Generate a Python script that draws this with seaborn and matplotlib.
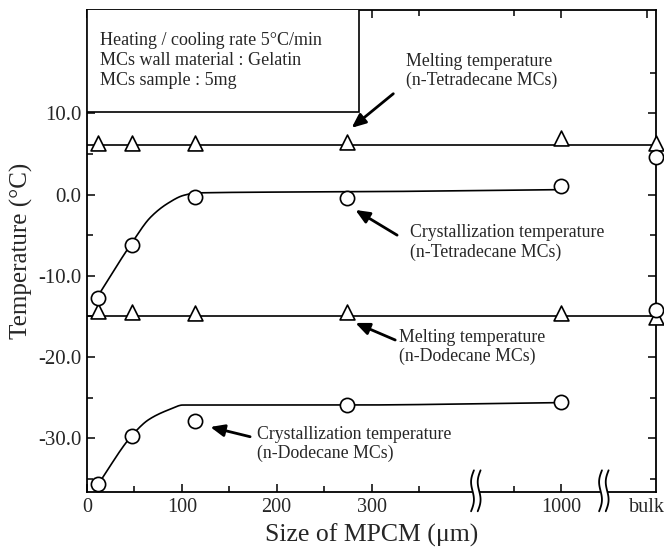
import numpy as np
import pandas as pd
import matplotlib
matplotlib.use("Agg")
import matplotlib.pyplot as plt
import matplotlib.transforms as mtransforms
from matplotlib.patches import Rectangle
import seaborn as sns

# ---------------- data ----------------
size_labels = ["12", "47", "114", "274", "1000", "bulk"]
# position on the broken x axis (1000 um -> 500, bulk -> 600)
x_pos = [12, 47, 114, 274, 500, 600]
melt_tetra = [6.35, 6.35, 6.3, 6.45, 6.9, 6.35]
cryst_tetra = [-12.7, -6.2, -0.3, -0.4, 1.0, 4.6]
melt_dodec = [-14.3, -14.4, -14.6, -14.5, -14.6, -15.1]
cryst_dodec = [-35.6, -29.7, -27.9, -25.9, -25.5, -14.2]
melt_levels = [6.05, -14.95]

# guide-to-the-eye curves (knots)
ct_curve_x = [12, 47, 67, 85, 102, 116, 300, 500]
ct_curve_y = [-12.4, -6.0, -2.8, -1.1, -0.1, 0.2, 0.35, 0.6]
cd_curve_x = [12, 47, 65, 88, 101, 273, 500]
cd_curve_y = [-35.6, -29.7, -27.7, -26.4, -25.9, -25.9, -25.6]

xtick_pos = [0, 100, 200, 300, 500, 590]
xtick_labels = ["0", "100", "200", "300", "1000", "bulk"]
xminor = [50, 150, 250, 350, 450]
break_pos = [410, 545]
ytick_vals = [10, 0, -10, -20, -30]
ytick_labels = ["10.0", "0.0", "-10.0", "-20.0", "-30.0"]
yminor = [15, 5, -5, -15, -25, -35]

box_lines = ["Heating / cooling rate 5\u00b0C/min",
             "MCs wall material : Gelatin",
             "MCs sample : 5mg"]

annotations = [
    # text, text (x, y), arrow tail, arrow head
    ("Melting temperature\n(n-Tetradecane MCs)", (336, 15.2), (323, 12.4), (279, 8.2)),
    ("Crystallization temperature\n(n-Tetradecane MCs)", (341, -5.9), (327, -5.0), (283, -1.9)),
    ("Melting temperature\n(n-Dodecane MCs)", (329, -18.8), (325, -17.9), (283, -15.8)),
    ("Crystallization temperature\n(n-Dodecane MCs)", (179, -30.7), (172, -29.8), (130, -28.6)),
]


def pchip(x, y, xn):
    x = np.asarray(x, float)
    y = np.asarray(y, float)
    h = np.diff(x)
    d = np.diff(y) / h
    m = np.zeros_like(y)
    for k in range(1, len(x) - 1):
        if d[k - 1] * d[k] > 0:
            w1 = 2 * h[k] + h[k - 1]
            w2 = h[k] + 2 * h[k - 1]
            m[k] = (w1 + w2) / (w1 / d[k - 1] + w2 / d[k])
    m[0] = d[0]
    m[-1] = d[-1]
    idx = np.clip(np.searchsorted(x, xn) - 1, 0, len(h) - 1)
    t = (xn - x[idx]) / h[idx]
    h00 = 2 * t**3 - 3 * t**2 + 1
    h10 = t**3 - 2 * t**2 + t
    h01 = -2 * t**3 + 3 * t**2
    h11 = t**3 - t**2
    return h00 * y[idx] + h10 * h[idx] * m[idx] + h01 * y[idx + 1] + h11 * h[idx] * m[idx + 1]


sns.set_theme(style="ticks")
plt.rcParams['font.family'] = ['Liberation Serif', 'DejaVu Serif']
plt.rcParams['mathtext.fontset'] = 'stix'

fig = plt.figure(figsize=(6.64, 5.51), dpi=100)
ax = fig.add_axes([87 / 664, 59 / 551, 569 / 664, 482 / 551])

df = pd.DataFrame({"pos": x_pos, "size": size_labels,
                   "melt_tetra": melt_tetra, "cryst_tetra": cryst_tetra,
                   "melt_dodec": melt_dodec, "cryst_dodec": cryst_dodec})

# horizontal melting lines
for lv in melt_levels:
    ax.axhline(lv, color="black", lw=1.2, zorder=2)

# crystallization curves
xs1 = np.linspace(ct_curve_x[0], ct_curve_x[-1], 400)
sns.lineplot(x=xs1, y=pchip(ct_curve_x, ct_curve_y, xs1), color="black", lw=1.2, ax=ax, zorder=2)
xs2 = np.linspace(cd_curve_x[0], cd_curve_x[-1], 400)
sns.lineplot(x=xs2, y=pchip(cd_curve_x, cd_curve_y, xs2), color="black", lw=1.2, ax=ax, zorder=2)

for col, mk, s in [("melt_tetra", "^", 115), ("melt_dodec", "^", 115),
                   ("cryst_tetra", "o", 105), ("cryst_dodec", "o", 105)]:
    sns.scatterplot(data=df, x="pos", y=col, marker=mk, s=s, color="white",
                    edgecolor="black", linewidth=1.2, clip_on=False, zorder=6, ax=ax)

ax.set_xlim(0, 600)
ax.set_ylim(-36.6, 22.7)

ax.set_xticks(xtick_pos)
ax.set_xticklabels(xtick_labels, fontsize=14.5)
ax.set_xticks(xminor, minor=True)
ax.get_xaxis().get_major_ticks()[-1].tick1line.set_visible(False)
ax.get_xaxis().get_major_ticks()[-1].tick2line.set_visible(False)
ax.set_yticks(ytick_vals)
ax.set_yticklabels(ytick_labels, fontsize=15)
ax.set_yticks(yminor, minor=True)
ax.tick_params(which="both", direction="in", top=True, right=True, color="black", width=1.1)
ax.tick_params(which="major", length=6, pad=4)
ax.tick_params(which="minor", length=4)
for sp in ax.spines.values():
    sp.set_linewidth(1.3)
    sp.set_color("black")

ax.set_xlabel("Size of MPCM (\u03bcm)", fontsize=18.5, labelpad=5)
ax.set_ylabel("Temperature (\u00b0C)", fontsize=18, labelpad=4)

# info box
ax.add_patch(Rectangle((0, 10.15), 287, 20, facecolor="white", edgecolor="black",
                       lw=1.2, zorder=4))
for i, line in enumerate(box_lines):
    ax.text(14, 19.0 - 2.5 * i, line, fontsize=13, va="center", ha="left", zorder=5)

# annotations
for txt, (tx, ty), tail, head in annotations:
    ax.text(tx, ty, txt, fontsize=12.8, ha="left", va="center", linespacing=1.15, zorder=7)
    ax.annotate("", xy=head, xytext=tail,
                arrowprops=dict(arrowstyle="-|>,head_length=0.7,head_width=0.3",
                                lw=2.0, color="black", shrinkA=0, shrinkB=0), zorder=7)

# axis break marks
trans = mtransforms.blended_transform_factory(ax.transData, ax.transAxes)
t = np.linspace(0, 1, 60)
for xb in break_pos:
    ax.add_patch(Rectangle((xb - 4, -0.006), 8, 0.012, transform=trans, facecolor="white",
                           edgecolor="none", clip_on=False, zorder=8))
    for off in (-3.5, 3.5):
        xx = xb + off + 2.2 * np.sin(2 * np.pi * t) + 3.0 * (t - 0.5)
        yy = -0.04 + 0.085 * t
        ax.plot(xx, yy, transform=trans, color="black", lw=1.3, clip_on=False, zorder=9)

fig.savefig("out.png", dpi=100)
